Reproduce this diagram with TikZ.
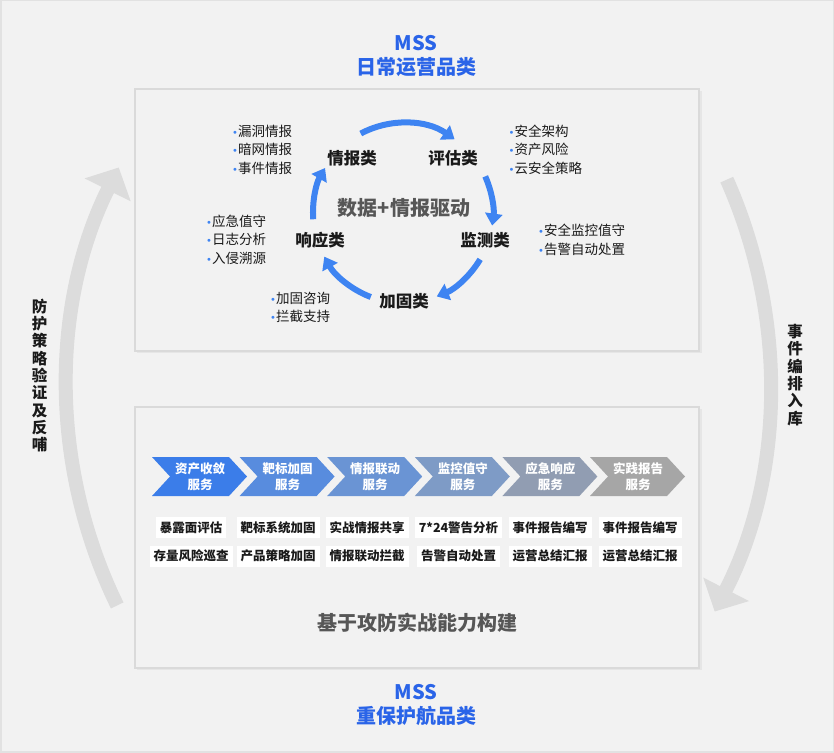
\documentclass[tikz,border=0pt]{standalone}
\usepackage{fontspec}
\setmainfont{Noto Sans CJK SC}
\newfontfamily\dejavu{DejaVu Sans}
\usetikzlibrary{arrows.meta}
\definecolor{bg}{HTML}{F2F2F2}
\definecolor{edge}{HTML}{E2E2E2}
\definecolor{boxline}{HTML}{DADADA}
\definecolor{boxshadow}{HTML}{E6E6E6}
\definecolor{cblue}{HTML}{3E84F2}
\definecolor{tblue}{HTML}{2A64E8}
\definecolor{arcgray}{HTML}{DCDCDC}
\definecolor{txt}{HTML}{1A1A1A}
\definecolor{midgray}{HTML}{575757}
\definecolor{ch1}{RGB}{59,125,233}
\definecolor{ch2}{RGB}{88,140,222}
\definecolor{ch3}{RGB}{106,148,212}
\definecolor{ch4}{RGB}{126,155,198}
\definecolor{ch5}{RGB}{145,157,178}
\definecolor{ch6}{RGB}{166,166,166}
\newcommand\bu{{\color{cblue}\dejavu\fontsize{10}{10}\selectfont •}}
\begin{document}
\begin{tikzpicture}[x=1pt,y=-1pt,
  title/.style={font=\fontsize{20}{22}\selectfont\bfseries, text=tblue, inner sep=0},
  cat/.style={font=\fontsize{16.5}{18}\selectfont\bfseries, text=txt, inner sep=0},
  lst/.style={font=\fontsize{13.5}{18.5}\selectfont, text=txt, align=left, anchor=west, inner sep=0},
  chevtext/.style={text=white, font=\fontsize{12.5}{16}\selectfont\bfseries, align=center, inner sep=0},
  itembox/.style={fill=white, font=\fontsize{12.5}{14}\selectfont\bfseries, inner xsep=4pt, inner ysep=0pt, minimum height=21pt, text=txt},
  cyc/.style={line width=6pt, draw=cblue, -{Triangle[width=17pt,length=12pt]}},
  bigarc/.style={line width=14pt, draw=arcgray, -{Triangle[width=50pt,length=25pt]}},
  side/.style={font=\fontsize{15.5}{17.3}\selectfont\bfseries, text=txt, align=center, inner sep=0},
  panel/.style={draw=boxline, line width=1.5pt, fill=bg},
  bigtext/.style={font=\fontsize{20}{22}\selectfont\bfseries, text=midgray, inner sep=0}
]
\useasboundingbox (0,0) rectangle (834,752);
\fill[bg] (0,0) rectangle (834,752);
\draw[edge, line width=3pt] (0,0) rectangle (834,752);

% big gray side arcs
\coordinate (lc) at (563,388);
\coordinate (rc) at (270,383);
\draw[bigarc] ([shift={(154:496)}]lc) arc[start angle=154, end angle=206.4, radius=496];
\draw[bigarc] ([shift={(-24:500)}]rc) arc[start angle=-24, end angle=27.2, radius=500];

% panels
\fill[boxshadow] (136.5,90.5) rectangle (701.5,352.5);
\draw[panel] (135,89) rectangle (699,351);
\fill[boxshadow] (136.5,408.5) rectangle (701.5,669.5);
\draw[panel] (135,407) rectangle (699,668);

% titles
\node[title] (t1) at (416,43) {MSS};
\node[title] (t2) at (416,67) {日常运营品类};
\node[title] (b1) at (416,692) {MSS};
\node[title] (b2) at (416,716) {重保护航品类};

% side labels
\node[side] (ls) at (39.5,375.5) {防\\护\\策\\略\\验\\证\\及\\反\\哺};
\node[side] (rs) at (795,375) {事\\件\\编\\排\\入\\库};

% cycle
\node[cat] (qb) at (352,158) {情报类};
\node[cat] (pg) at (453,158) {评估类};
\node[cat] (jc) at (485,240) {监测类};
\node[cat] (jg) at (404,301) {加固类};
\node[cat] (xy) at (320,240) {响应类};
\node[bigtext] (core) at (404,208) {数据+情报驱动};
\coordinate (cc) at (403,213);
\draw[cyc] ([shift={(-118:90)}]cc) arc[start angle=-118, end angle=-55, radius=90];
\draw[cyc] ([shift={(-24:90)}]cc) arc[start angle=-24, end angle=8, radius=90];
\draw[cyc] ([shift={(31:90)}]cc) arc[start angle=31, end angle=68, radius=90];
\draw[cyc] ([shift={(111:90)}]cc) arc[start angle=111, end angle=151, radius=90];
\draw[cyc] ([shift={(176:90)}]cc) arc[start angle=176, end angle=210, radius=90];

% bullet lists
\node[lst] (l1) at (232,149.5) {\bu 漏洞情报\\\bu 暗网情报\\\bu 事件情报};
\node[lst] (l2) at (508.5,149.5) {\bu 安全架构\\\bu 资产风险\\\bu 云安全策略};
\node[lst] (l3) at (206,239.5) {\bu 应急值守\\\bu 日志分析\\\bu 入侵溯源};
\node[lst] (l4) at (538,240) {\bu 安全监控值守\\\bu 告警自动处置};
\node[lst] (l5) at (270,307.5) {\bu 加固咨询\\\bu 拦截支持};

% chevrons
\foreach \i/\c/\t in {0/ch1/资产收敛, 1/ch2/靶标加固, 2/ch3/情报联动, 3/ch4/监控值守, 4/ch5/应急响应, 5/ch6/实践报告}{
  \pgfmathsetmacro{\L}{152+87.6*\i}
  \fill[\c] (\L,457) -- ++(77,0) -- ++(18,19.5) -- ++(-18,19.5) -- ++(-77,0) -- ++(18,-19.5) -- cycle;
  \node[chevtext] (s\i) at (\L+48,477) {\t\\服务};
}

% items
\node[itembox] (a1) at (191,527.5) {暴露面评估};
\node[itembox] (a2) at (191,556) {存量风险巡查};
\node[itembox] (b1i) at (278,527.5) {靶标系统加固};
\node[itembox] (b2i) at (278,556) {产品策略加固};
\node[itembox] (c1) at (367,527.5) {实战情报共享};
\node[itembox] (c2) at (367,556) {情报联动拦截};
\node[itembox] (d1) at (458.5,527.5) {7*24警告分析};
\node[itembox] (d2) at (458.5,556) {告警自动处置};
\node[itembox] (e1) at (550,527.5) {事件报告编写};
\node[itembox] (e2) at (550,556) {运营总结汇报};
\node[itembox] (f1) at (640,527.5) {事件报告编写};
\node[itembox] (f2) at (640,556) {运营总结汇报};

\node[bigtext] (base) at (417,623) {基于攻防实战能力构建};
\end{tikzpicture}
\end{document}
